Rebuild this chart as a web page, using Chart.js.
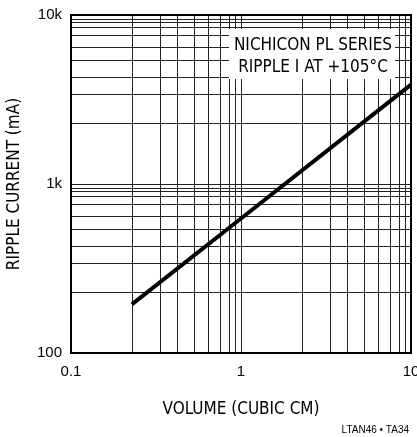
<!DOCTYPE html>
<html lang="en">
<head>
<meta charset="UTF-8">
<title>Ripple Current vs Volume</title>
<script src="https://cdn.jsdelivr.net/npm/chart.js"></script>
<style>
    body { margin: 0; background: #fff; overflow: hidden; }
</style>
</head>
<body>
<canvas id="ripple-chart" width="425" height="437"></canvas>
<script>
// values
const volume = [0.228, 1, 10];            // cubic cm
const rippleCurrent = [194, 625, 3870];   // mA

// the printed grid isn't a clean 2..9 log grid, so these are the line positions per decade
const xDecades = [0.1, 1];
const xMinor = [2.29, 3.38, 4.26, 5.36, 6.44, 7.56, 8.52, 9.31];
const yDecades = [100, 1000];
const yMinor = [2.28, 3.38, 4.25, 5.4, 6.45, 7.6, 8.48, 8.97, 9.4];

const xLabels = { 0.1: '0.1', 1: '1', 10: '10' };
const yLabels = { 100: '100', 1000: '1k', 10000: '10k' };

const noteLines = ['NICHICON PL SERIES', 'RIPPLE I AT +105°C'];
const footnote = 'LTAN46 \u2022 TA34';

const narrow = "'Liberation Sans Narrow', 'DejaVu Sans Condensed', sans-serif";
const plain = "'Liberation Sans', Arial, sans-serif";

function gridValues(decades, minor) {
    const vals = [];
    decades.forEach(d => {
        vals.push(d);
        minor.forEach(m => vals.push(+(d * m).toPrecision(4)));
    });
    vals.push(decades[decades.length - 1] * 10);
    return vals;
}

// let layout.padding alone decide where the plot edges go
function noOverflow(s) {
    s.paddingLeft = 0;
    s.paddingRight = 0;
    s.paddingTop = 0;
    s.paddingBottom = 0;
}

// frame, note box and part number
const extras = {
    id: 'extras',
    beforeDatasetsDraw(chart) {
        const { ctx, chartArea: a } = chart;
        ctx.save();
        const bx = a.left + 158, by = a.top + 14, bw = 166, bh = 50;
        ctx.fillStyle = '#fff';
        ctx.fillRect(bx, by, bw, bh);
        ctx.fillStyle = '#000';
        ctx.font = '17px ' + narrow;
        ctx.textAlign = 'center';
        ctx.textBaseline = 'middle';
        noteLines.forEach((t, i) => ctx.fillText(t, bx + bw / 2 + 1, by + 17 + i * 22));
        ctx.restore();
    },
    afterDraw(chart) {
        const { ctx, chartArea: a } = chart;
        ctx.save();
        ctx.strokeStyle = '#000';
        ctx.lineWidth = 2;
        ctx.strokeRect(a.left, a.top, a.right - a.left, a.bottom - a.top);
        ctx.fillStyle = '#000';
        ctx.font = '10px ' + plain;
        ctx.textAlign = 'right';
        ctx.textBaseline = 'middle';
        ctx.fillText(footnote, 409, 430);
        ctx.restore();
    }
};

new Chart(document.getElementById('ripple-chart'), {
    type: 'scatter',
    data: {
        datasets: [{
            data: volume.map((v, i) => ({ x: v, y: rippleCurrent[i] })),
            showLine: true,
            borderColor: '#000',
            borderWidth: 4,
            pointRadius: 0,
            fill: false
        }]
    },
    options: {
        responsive: false,
        animation: false,
        layout: { padding: { top: 15, right: 14, left: 0, bottom: 0 } },
        plugins: { legend: { display: false }, tooltip: { enabled: false } },
        scales: {
            x: {
                type: 'logarithmic',
                min: 0.1,
                max: 10,
                afterBuildTicks: s => { s.ticks = gridValues(xDecades, xMinor).map(v => ({ value: v })); },
                afterFit: s => { s.height = 84; noOverflow(s); },
                grid: { color: '#222', lineWidth: 1, drawTicks: false },
                border: { display: true, color: '#000', width: 2 },
                ticks: {
                    autoSkip: false,
                    maxRotation: 0,
                    padding: 10,
                    color: '#000',
                    font: { family: plain, size: 15 },
                    callback: v => xLabels[v] || ''
                },
                title: {
                    display: true,
                    text: 'VOLUME (CUBIC CM)',
                    color: '#000',
                    font: { family: narrow, size: 17 },
                    padding: { top: 0, bottom: 17 }
                }
            },
            y: {
                type: 'logarithmic',
                min: 100,
                max: 10000,
                afterBuildTicks: s => { s.ticks = gridValues(yDecades, yMinor).map(v => ({ value: v })); },
                afterFit: s => { s.width = 71; noOverflow(s); },
                grid: { color: '#222', lineWidth: 1, drawTicks: false },
                border: { display: true, color: '#000', width: 2 },
                ticks: {
                    autoSkip: false,
                    padding: 9,
                    color: '#000',
                    font: { family: plain, size: 15 },
                    callback: v => yLabels[v] || ''
                },
                title: {
                    display: true,
                    text: 'RIPPLE CURRENT (mA)',
                    color: '#000',
                    font: { family: narrow, size: 17 },
                    padding: { top: 4, bottom: 0 }
                }
            }
        }
    },
    plugins: [extras]
});
</script>
</body>
</html>
